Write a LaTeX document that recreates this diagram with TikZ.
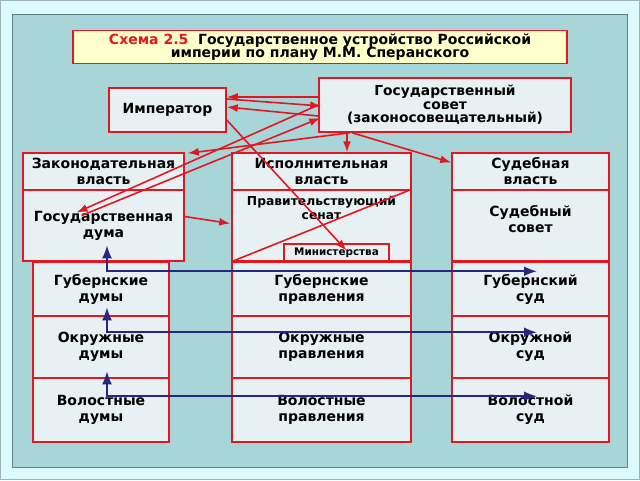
\documentclass[tikz,border=0pt]{standalone}
\usepackage{fontspec}
\setmainfont{DejaVu Sans}
\usetikzlibrary{arrows.meta,calc}
\definecolor{bgout}{HTML}{DDFBFD}
\definecolor{panel}{HTML}{A7D5D8}
\definecolor{boxfill}{HTML}{E7F1F3}
\definecolor{titlefill}{HTML}{FFFFCC}
\definecolor{rd}{HTML}{E3171F}
\definecolor{nv}{HTML}{26277F}
\definecolor{framec}{HTML}{5F7F80}
\begin{document}
\begin{tikzpicture}[x=1pt,y=-1pt,
 box/.style={draw=rd, line width=1.5pt, fill=boxfill, inner sep=0pt, align=center,
   font=\bfseries\fontsize{14}{16}\selectfont},
 rarrow/.style={draw=rd, line width=1.6pt, -{Latex[length=11pt,width=8pt]}},
 rline/.style={draw=rd, line width=1.6pt},
 barrow/.style={draw=nv, line width=2pt, {Latex[length=13pt,width=10pt]}-{Latex[length=13pt,width=10pt]}},
]
\useasboundingbox (0,0) rectangle (640,480);
\fill[bgout] (0,0) rectangle (640,480);
\draw[framec!60, line width=1pt] (0.5,0.5) rectangle (639.5,479.5);
\draw[framec, fill=panel, line width=1pt] (12,14) rectangle (627,467);

% title
\node[box, fill=titlefill, minimum width=494pt, minimum height=33pt,
  font=\bfseries\fontsize{14}{13.5}\selectfont] (title) at (320,47)
  {{\color{rd}Схема 2.5}\ \ Государственное устройство Российской\\империи по плану М.М. Сперанского};

% top boxes
\node[box, minimum width=117pt, minimum height=44pt] (imp) at (167.5,110) {Император};
\node[box, minimum width=252pt, minimum height=54pt, font=\bfseries\fontsize{13.8}{13.5}\selectfont] (sov) at (445,105)
  {Государственный\\совет\\(законосовещательный)};

% lower boxes
\node[box, minimum width=136pt, minimum height=54pt] (gubd) at (101,289) {Губернские\\думы};
\node[box, minimum width=136pt, minimum height=62pt] (okrd) at (101,347) {Окружные\\думы};
\node[box, minimum width=136pt, minimum height=64pt] (vold) at (101,410) {Волостные\\думы};
\node[box, minimum width=179pt, minimum height=54pt] (gubp) at (321.5,289) {Губернские\\правления};
\node[box, minimum width=179pt, minimum height=62pt] (okrp) at (321.5,347) {Окружные\\правления};
\node[box, minimum width=179pt, minimum height=64pt] (volp) at (321.5,410) {Волостные\\правления};
\node[box, minimum width=157pt, minimum height=54pt] (gubs) at (530.5,289) {Губернский\\суд};
\node[box, minimum width=157pt, minimum height=62pt] (okrs) at (530.5,347) {Окружной\\суд};
\node[box, minimum width=157pt, minimum height=64pt] (vols) at (530.5,410) {Волостной\\суд};

% columns
\node[box, minimum width=161pt, minimum height=37pt] (zak) at (103.5,171.5) {Законодательная\\власть};
\node[box, minimum width=161pt, minimum height=71pt] (duma) at (103.5,225.5) {Государственная\\дума};
\node[box, minimum width=179pt, minimum height=37pt] (isp) at (321.5,171.5) {Исполнительная\\власть};
\node[box, minimum width=179pt, minimum height=71pt,
  label={[anchor=north, yshift=-3pt, align=center, font=\bfseries\fontsize{12.3}{14}\selectfont]north:Правительствующий\\сенат}] (sen) at (321.5,225.5) {};
\node[box, minimum width=105pt, minimum height=17pt, line width=1.1pt, font=\bfseries\fontsize{10.4}{10}\selectfont] (min) at (336.5,252.5) {Министерства};
\node[box, minimum width=157pt, minimum height=37pt] (sudv) at (530.5,171.5) {Судебная\\власть};
\node[box, minimum width=157pt, minimum height=71pt,
  label={[anchor=center, yshift=6pt, align=center, font=\bfseries\fontsize{14}{16}\selectfont]center:Судебный\\совет}] (suds) at (530.5,225.5) {};

% red connectors
\draw[rarrow] ($(sov.west)+(0,-8)$) -- ($(imp.east)+(0,-13)$);
\draw[rarrow] ($(imp.east)+(0,-11)$) -- ($(sov.west)+(3,1)$);
\draw[rarrow] ($(sov.west)+(0,11)$) -- ($(imp.east)+(0,-3)$);
\draw[rarrow] ($(sov.west)+(0,0)$) -- ($(duma.center)+(-27,-13)$);
\draw[rarrow] ($(duma.center)+(-22,-10)$) -- ($(sov.west)+(2,13)$);
\draw[rarrow] ($(sov.south)+(-95,0)$) -- ($(zak.north east)+(3,1)$);
\draw[rarrow] ($(sov.south)+(-98,0)$) -- ($(isp.north)+(25.5,0)$);
\draw[rarrow] ($(sov.south)+(-93,0)$) -- ($(sudv.west)+(0,-9)$);
\draw[rarrow] ($(imp.east)+(0,10)$) -- ($(min.center)+(10,-2)$);
\draw[rarrow] ($(duma.east)+(0,-9)$) -- ($(sen.west)+(-1,-2)$);
\draw[rline] (sen.north east) -- (sen.south west);

% blue connectors
\draw[barrow] ($(gubd.north)+(6,-16)$) -- ($(gubd.north)+(6,10)$) -- ($(gubs.north)+(6.5,10)$);
\draw[barrow] ($(okrd.north)+(6,-8)$) -- ($(okrd.north)+(6,17)$) -- ($(okrs.north)+(6.5,17)$);
\draw[barrow] ($(vold.north)+(6,-6)$) -- ($(vold.north)+(6,19)$) -- ($(vols.north)+(6.5,19)$);
\end{tikzpicture}
\end{document}
